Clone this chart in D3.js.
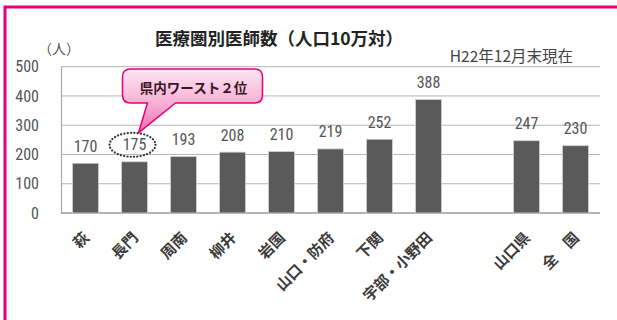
<!DOCTYPE html>
<html><head><meta charset="utf-8">
<script src="https://cdn.jsdelivr.net/npm/d3@7/dist/d3.min.js"></script>
<style>
html,body{margin:0;padding:0;background:#fff;}
svg{display:block;}
.num{font-family:"Liberation Sans Narrow","Roboto Condensed","Liberation Sans",sans-serif;}
.jp{font-family:"Noto Sans CJK JP","Noto Sans CJK SC",sans-serif;}
</style></head>
<body>
<svg id="c" width="617" height="320"></svg>
<script>
const categories = ["萩","長門","周南","柳井","岩国","山口・防府","下関","宇部・小野田","gap","山口県","全　国"];
const values = [170,175,193,208,210,219,252,388,null,247,230];
const yTicks = [0,100,200,300,400,500];
const titleText = "医療圏別医師数（人口10万対）";
const unitText = "（人）";
const dateText = "H22年12月末現在";
const calloutText = "県内ワースト２位";
const calloutCategory = "長門";

const svg = d3.select("#c");
const W = 617, H = 320;
const plot = {left:61, right:600, top:66.7, bottom:213};

const x = d3.scaleBand().domain(categories).range([plot.left, plot.right])
  .paddingInner(0.47).paddingOuter(0.235);
const y = d3.scaleLinear().domain([0,500]).range([plot.bottom, plot.top]);

const defs = svg.append("defs");
const grad = defs.append("linearGradient").attr("id","pg").attr("x1",0).attr("y1",0).attr("x2",0).attr("y2",1);
grad.append("stop").attr("offset","0%").attr("stop-color","#fde6f1");
grad.append("stop").attr("offset","55%").attr("stop-color","#f7aed3");
grad.append("stop").attr("offset","100%").attr("stop-color","#ee6bae");

// pink frame
svg.append("path").attr("d",`M5,${H} V7 H${W}`).attr("fill","none")
  .attr("stroke","#e4007f").attr("stroke-width",3);

// gridlines
svg.append("g").selectAll("line").data(yTicks.filter(d=>d>0)).join("line")
  .attr("x1",plot.left).attr("x2",plot.right)
  .attr("y1",d=>y(d)).attr("y2",d=>y(d))
  .attr("stroke","#b4b4b4").attr("stroke-width",1);

// y axis
const yAxis = d3.axisLeft(y).tickValues(yTicks).tickSize(0).tickPadding(22);
const ga = svg.append("g").attr("transform",`translate(${plot.left},0)`).call(yAxis);
ga.select(".domain").attr("stroke","#a8a8a8").attr("stroke-width",1.2);
ga.selectAll("text").attr("class","num").attr("font-size",16).attr("fill","#555");

// baseline
svg.append("line").attr("x1",plot.left).attr("x2",plot.right)
  .attr("y1",y(0)).attr("y2",y(0)).attr("stroke","#9a9a9a").attr("stroke-width",1.5);

const data = categories.map((c,i)=>({c, v:values[i]})).filter(d=>d.v!==null);

// bars
svg.append("g").selectAll("rect").data(data).join("rect")
  .attr("x",d=>x(d.c)).attr("width",x.bandwidth())
  .attr("y",d=>y(d.v)).attr("height",d=>y(0)-y(d.v))
  .attr("fill","#5a5a5a").attr("stroke","#d0d0d0").attr("stroke-width",0.8);

// value labels
svg.append("g").selectAll("text").data(data).join("text")
  .attr("class","num").attr("font-size",16).attr("fill","#555")
  .attr("text-anchor","middle")
  .attr("x",d=>x(d.c)+x.bandwidth()/2).attr("y",d=>y(d.v)-11.5)
  .text(d=>d.v);

// category labels
svg.append("g").selectAll("text").data(categories.filter(c=>c!=="gap")).join("text")
  .attr("class","jp").attr("font-size",15).attr("font-weight","bold").attr("fill","#3a3a3a")
  .attr("text-anchor","end").attr("dy","0.35em")
  .attr("transform",c=>`translate(${x(c)+x.bandwidth()/2+1},235) rotate(-45)`)
  .text(c=>c);

// title etc
svg.append("text").attr("class","jp").attr("x",279).attr("y",45)
  .attr("text-anchor","middle").attr("font-size",17.5).attr("font-weight","bold")
  .attr("fill","#222").text(titleText);
svg.append("text").attr("class","jp").attr("x",59).attr("y",54)
  .attr("text-anchor","middle").attr("font-size",14).attr("fill","#555").text(unitText);
svg.append("text").attr("class","jp").attr("x",573).attr("y",62)
  .attr("text-anchor","end").attr("font-size",15.5).attr("fill","#444").text(dateText);

// dotted ellipse around the callout value
const cv = values[categories.indexOf(calloutCategory)];
const ex = x(calloutCategory)+x.bandwidth()/2 - 2, ey = y(cv)-17;
svg.append("ellipse").attr("cx",ex).attr("cy",ey).attr("rx",23).attr("ry",12)
  .attr("fill","none").attr("stroke","#333").attr("stroke-width",2.2)
  .attr("stroke-dasharray","0.1 3.2").attr("stroke-linecap","round");

// callout bubble
const bx0 = ex-10, bx1 = ex+130, by0 = 69, by1 = 103, r = 8;
const tipX = ex+6, tipY = ey-12;
const path = `M${bx0+r},${by0} H${bx1-r} Q${bx1},${by0} ${bx1},${by0+r} V${by1-r} Q${bx1},${by1} ${bx1-r},${by1}
 H${ex+43} L${tipX},${tipY} L${ex+15},${by1} H${bx0+r} Q${bx0},${by1} ${bx0},${by1-r} V${by0+r} Q${bx0},${by0} ${bx0+r},${by0} Z`;
svg.append("path").attr("d",path).attr("fill","url(#pg)")
  .attr("stroke","#e2007a").attr("stroke-width",1.5).attr("stroke-linejoin","round");
svg.append("text").attr("class","jp").attr("x",(bx0+bx1)/2+1).attr("y",93)
  .attr("text-anchor","middle").attr("font-size",13.5).attr("font-weight","bold")
  .attr("fill","#3a1526").text(calloutText);
</script>
</body></html>
